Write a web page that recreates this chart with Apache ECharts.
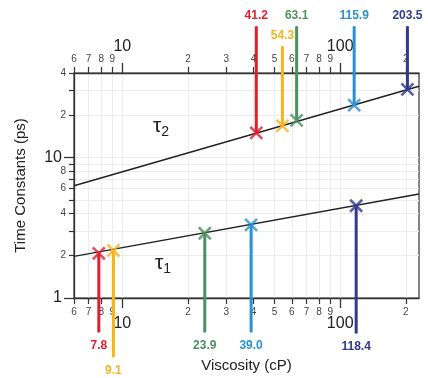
<!DOCTYPE html>
<html>
<head>
<meta charset="utf-8">
<script src="https://cdn.jsdelivr.net/npm/echarts@6/dist/echarts.min.js"></script>
<style>
html,body{margin:0;padding:0;background:#fff;}
#c{width:428px;height:378px;}
</style>
</head>
<body>
<div id="c"></div>
<script>
// ---------- data ----------
var xMin = 6, xMax = 230;
var yMin = 1, yMax = 40;
var xMinorTicks = [6, 7, 8, 9, 20, 30, 40, 50, 60, 70, 80, 90, 200];
var xMajorTicks = [10, 100];
var yMinorTicks = [2, 3, 4, 5, 6, 7, 8, 9, 20, 30, 40];
var yMinorLabels = [2, 4, 6, 8, 20, 40];
var yMajorTicks = [1, 10];

// tau2 (upper) measurements
var tau2Visc = [41.2, 54.3, 63.1, 115.9, 203.5];
var tau2Vals = [15.0, 16.8, 18.4, 23.6, 30.6];
var tau2Colors = ['#e01f2e', '#f4b41e', '#4e9160', '#2a90d3', '#2f3a8e'];
var tau2LeaderEnd = [86, 62, 86, 86, 86];
// tau1 (lower) measurements
var tau1Visc = [7.8, 9.1, 23.9, 39.0, 118.4];
var tau1Vals = [2.08, 2.18, 2.89, 3.32, 4.54];
var tau1Colors = ['#e01f2e', '#f4b41e', '#4e9160', '#2a90d3', '#2f3a8e'];
var tau1LeaderEnd = [0.57, 0.38, 0.57, 0.57, 0.56];
// fit lines
var fit2X = [6, 230], fit2Y = [6.3, 32.2];
var fit1X = [6, 230], fit1Y = [1.98, 5.5];

// ---------- chart ----------
var chart = echarts.init(document.getElementById('c'), null, {renderer: 'canvas'});
var FONT = '"Liberation Sans", Arial, sans-serif';
var gridLineStyle = {color: '#ececec', width: 1};

function leadDigit(v) {
  var p = Math.pow(10, Math.floor(Math.log10(v) + 1e-9));
  return String(Math.round(v / p));
}

function xAxisMinor(pos, withName) {
  return {
    type: 'log', position: pos, min: xMin, max: xMax, gridIndex: 0,
    axisLine: {show: true, lineStyle: {color: '#333', width: 1.3}},
    axisTick: {show: true, length: 6, customValues: xMinorTicks, lineStyle: {color: '#333', width: 1.2}},
    axisLabel: {show: true, customValues: xMinorTicks, margin: 9, fontSize: 10, color: '#444', fontFamily: FONT,
      formatter: function (v) { return leadDigit(v); }},
    splitLine: {show: pos === 'bottom', lineStyle: gridLineStyle},
    name: withName ? 'Viscosity (cP)' : '',
    nameLocation: 'middle', nameGap: 60,
    nameTextStyle: {fontSize: 15, color: '#222', fontFamily: FONT}
  };
}
function xAxisMajor(pos) {
  return {
    type: 'log', position: pos, min: xMin, max: xMax, gridIndex: 0,
    axisLine: {show: false},
    axisTick: {show: true, length: 10, customValues: xMajorTicks, lineStyle: {color: '#333', width: 1.3}},
    axisLabel: {show: true, customValues: xMajorTicks, margin: 18, fontSize: 16, color: '#222', fontFamily: FONT,
      formatter: function (v) { return String(Math.round(v)); }},
    splitLine: {show: pos === 'bottom', lineStyle: gridLineStyle}
  };
}

var series = [];
// fit lines
series.push({type: 'line', xAxisIndex: 0, yAxisIndex: 0, symbol: 'none', silent: true,
  lineStyle: {color: '#222', width: 1.4},
  data: fit2X.map(function (x, i) { return [x, fit2Y[i]]; })});
series.push({type: 'line', xAxisIndex: 0, yAxisIndex: 0, symbol: 'none', silent: true,
  lineStyle: {color: '#222', width: 1.4},
  data: fit1X.map(function (x, i) { return [x, fit1Y[i]]; })});

// leader lines
function leader(x, y, yEnd, color, labelPos, dist) {
  return {type: 'line', xAxisIndex: 0, yAxisIndex: 0, clip: false, silent: true, z: 3,
    symbol: 'circle', symbolSize: 1, showSymbol: true,
    itemStyle: {color: color},
    lineStyle: {color: color, width: 3},
    data: [
      {value: [x, y]},
      {value: [x, yEnd], label: {show: true, position: labelPos, distance: dist,
        formatter: x.toFixed(1), color: color, fontSize: 12, fontWeight: 'bold', fontFamily: FONT}}
    ]};
}
tau2Visc.forEach(function (x, i) { series.push(leader(x, tau2Vals[i], tau2LeaderEnd[i], tau2Colors[i], 'top', 4)); });
tau1Visc.forEach(function (x, i) { series.push(leader(x, tau1Vals[i], tau1LeaderEnd[i], tau1Colors[i], 'bottom', 7)); });

// markers
var XSYM = 'path://M0,0L10,10M10,0L0,10';
function markers(xs, ys, cs) {
  return {type: 'scatter', xAxisIndex: 0, yAxisIndex: 0, z: 5, symbol: XSYM, symbolSize: 12, silent: true,
    data: xs.map(function (x, i) {
      return {value: [x, ys[i]], itemStyle: {color: 'rgba(0,0,0,0)', borderColor: cs[i], borderWidth: 2.6}};
    })};
}
series.push(markers(tau2Visc, tau2Vals, tau2Colors));
series.push(markers(tau1Visc, tau1Vals, tau1Colors));

chart.setOption({
  animation: false,
  backgroundColor: '#fff',
  grid: {left: 74, right: 9, top: 73, bottom: 80, show: true, borderColor: '#333', borderWidth: 1.2, containLabel: false},
  xAxis: [xAxisMinor('bottom', true), xAxisMajor('bottom'), xAxisMinor('top', false), xAxisMajor('top')],
  yAxis: [
    {type: 'log', position: 'left', min: yMin, max: yMax,
      axisLine: {show: true, lineStyle: {color: '#333', width: 1.3}},
      axisTick: {show: true, length: 5, customValues: yMinorTicks, lineStyle: {color: '#333', width: 1.2}},
      axisLabel: {show: true, customValues: yMinorLabels, margin: 8, fontSize: 10, color: '#444', fontFamily: FONT,
        formatter: function (v) { return leadDigit(v); }},
      splitLine: {show: true, lineStyle: gridLineStyle},
      name: 'Time Constants (ps)', nameLocation: 'middle', nameGap: 46, nameRotate: 90,
      nameTextStyle: {fontSize: 15, color: '#222', fontFamily: FONT}},
    {type: 'log', position: 'left', min: yMin, max: yMax,
      axisLine: {show: false},
      axisTick: {show: true, length: 10, customValues: yMajorTicks, lineStyle: {color: '#333', width: 1.3}},
      axisLabel: {show: true, customValues: yMajorTicks, margin: 12, fontSize: 16, color: '#222', fontFamily: FONT,
        formatter: function (v) { return String(Math.round(v)); }},
      splitLine: {show: true, lineStyle: gridLineStyle}}
  ],
  graphic: [
    {type: 'text', left: 153, top: 116, z: 10,
      style: {text: '{t|τ}{s|2}', rich: {
        t: {fontSize: 21, fontFamily: FONT, fill: '#222'},
        s: {fontSize: 14, fontFamily: FONT, fill: '#222', padding: [12, 0, 0, 0]}}}},
    {type: 'text', left: 155, top: 253, z: 10,
      style: {text: '{t|τ}{s|1}', rich: {
        t: {fontSize: 21, fontFamily: FONT, fill: '#222'},
        s: {fontSize: 14, fontFamily: FONT, fill: '#222', padding: [12, 0, 0, 0]}}}}
  ],
  series: series
});
</script>
</body>
</html>
